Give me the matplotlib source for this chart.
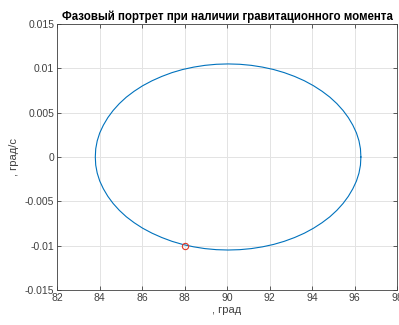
import matplotlib
matplotlib.use("Agg")
import matplotlib.pyplot as plt

plt.rcParams['font.family'] = ['Liberation Sans', 'DejaVu Sans']

# Trajectory points (phase portrait, angle vs rate)
x_traj = [96.30, 96.28, 96.21, 96.09, 95.92, 95.71, 95.46, 95.17, 94.84, 94.47,
          94.07, 93.64, 93.18, 92.69, 92.19, 91.67, 91.14, 90.60, 90.05,
          89.50, 88.96, 88.43, 87.91, 87.41, 86.93, 86.47, 86.03, 85.63,
          85.26, 84.93, 84.64, 84.39, 84.18, 84.01, 83.89, 83.82, 83.80,
          83.82, 83.89, 84.01, 84.18, 84.39, 84.64, 84.93, 85.26, 85.63,
          86.03, 86.47, 86.93, 87.41, 87.91, 88.43, 88.96, 89.50, 90.05,
          90.60, 91.14, 91.67, 92.19, 92.69, 93.18, 93.64, 94.07, 94.47,
          94.84, 95.17, 95.46, 95.71, 95.92, 96.09, 96.21, 96.28, 96.30]
y_traj = [0.0, 0.00092, 0.00182, 0.00272, 0.00359, 0.00444, 0.00525, 0.00602, 0.00675, 0.00742,
          0.00804, 0.00860, 0.00909, 0.00952, 0.00987, 0.01014, 0.01034, 0.01046, 0.0105,
          0.01046, 0.01034, 0.01014, 0.00987, 0.00952, 0.00909, 0.00860, 0.00804, 0.00742,
          0.00675, 0.00602, 0.00525, 0.00444, 0.00359, 0.00272, 0.00182, 0.00092, 0.0,
          -0.00092, -0.00182, -0.00272, -0.00359, -0.00444, -0.00525, -0.00602, -0.00675, -0.00742,
          -0.00804, -0.00860, -0.00909, -0.00952, -0.00987, -0.01014, -0.01034, -0.01046, -0.0105,
          -0.01046, -0.01034, -0.01014, -0.00987, -0.00952, -0.00909, -0.00860, -0.00804, -0.00742,
          -0.00675, -0.00602, -0.00525, -0.00444, -0.00359, -0.00272, -0.00182, -0.00092, 0.0]
x_start = [88.0]
y_start = [-0.01]

x_ticks = [82, 84, 86, 88, 90, 92, 94, 96, 98]
y_ticks = [-0.015, -0.01, -0.005, 0, 0.005, 0.01, 0.015]
y_ticklabels = ['-0.015', '-0.01', '-0.005', '0', '0.005', '0.01', '0.015']

fig = plt.figure(figsize=(3.99, 3.25), dpi=100)
ax = fig.add_axes([0.143, 0.108, 0.852, 0.818])

ax.plot(x_traj, y_traj, color='#0072BD', lw=0.8)
ax.plot(x_start, y_start, 'o', mfc='none', mec='#E03A2A', ms=4.5, mew=0.8)

ax.set_xlim(82, 98)
ax.set_ylim(-0.015, 0.015)
ax.set_xticks(x_ticks)
ax.set_yticks(y_ticks)
ax.set_yticklabels(y_ticklabels)
ax.grid(True, color='#e3e3e3', lw=0.7)
ax.set_axisbelow(True)
ax.tick_params(direction='in', length=3, width=0.6, labelsize=7.5, colors='#404040',
               top=True, right=True, pad=2)
for s in ax.spines.values():
    s.set_color('#404040')
    s.set_linewidth(0.6)

ax.set_title('Фазовый портрет при наличии гравитационного момента',
             fontsize=8.3, fontweight='bold', pad=3)
ax.set_xlabel(', град', fontsize=8, color='#404040', labelpad=2)
ax.set_ylabel(', град/с', fontsize=8, color='#404040', labelpad=4)

fig.savefig('out.png', dpi=100)
